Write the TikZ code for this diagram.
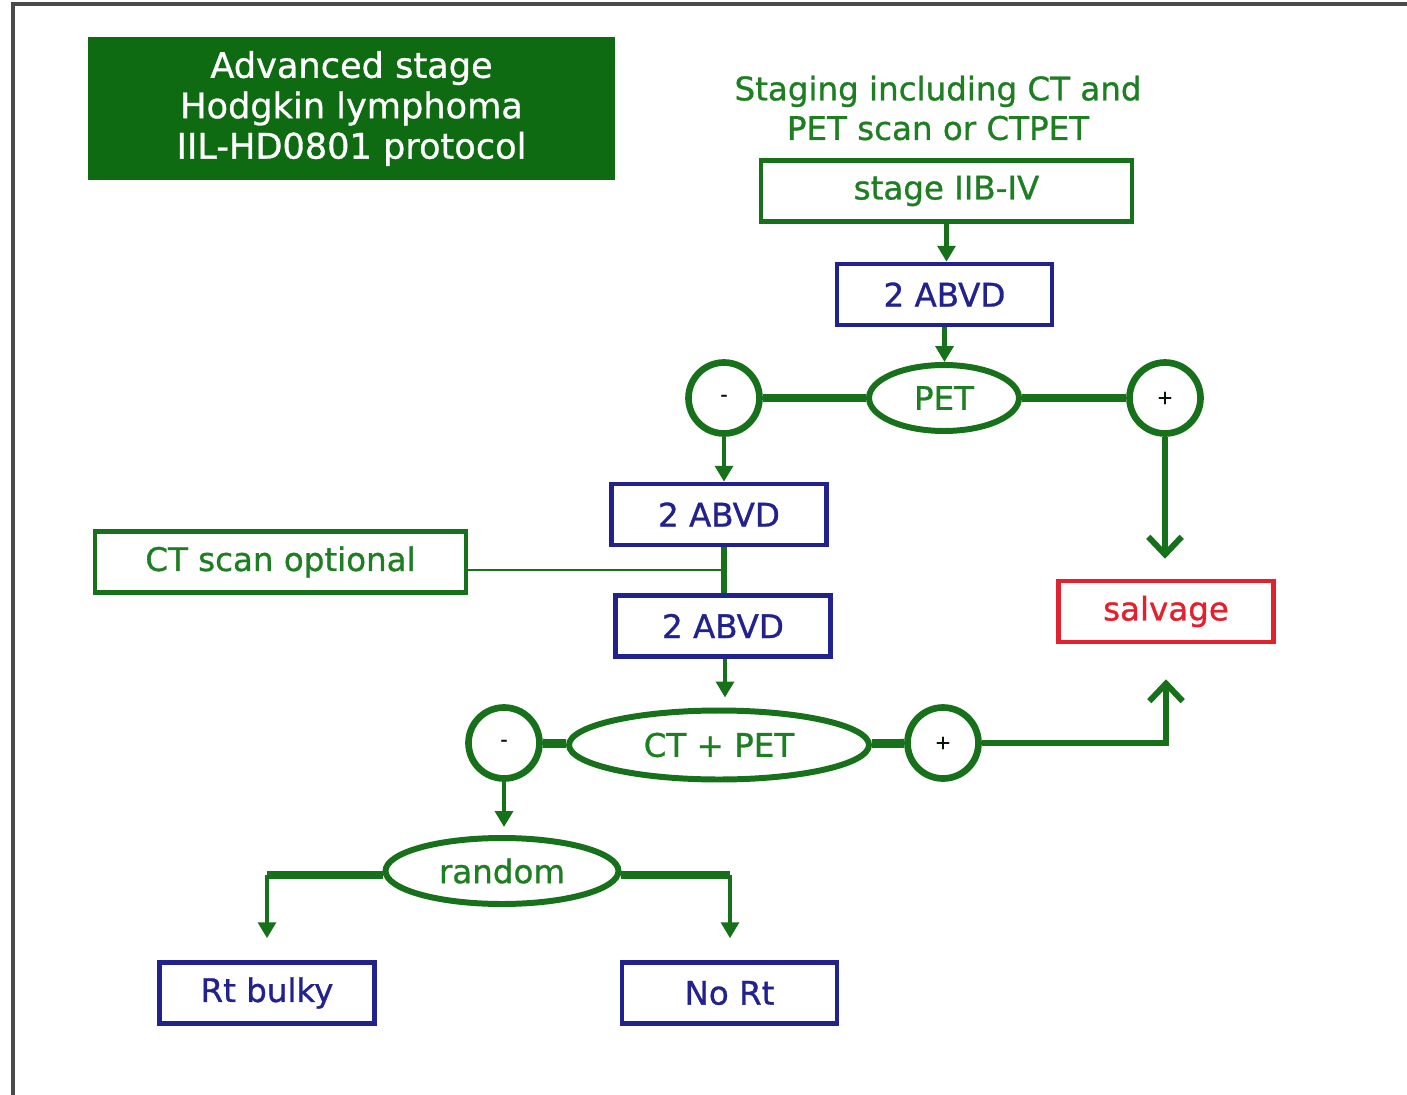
\documentclass[tikz,border=0pt]{standalone}
\usepackage{fontspec}
\setmainfont{DejaVu Sans}
\newfontfamily\cs{DejaVu Sans}[FakeBold=0.9]
\usetikzlibrary{arrows.meta,shapes.geometric,calc}
\definecolor{dgreen}{HTML}{17701A}
\definecolor{tgreen}{HTML}{1E7E22}
\definecolor{titlegreen}{HTML}{0F6B12}
\definecolor{dblue}{HTML}{22228F}
\definecolor{dred}{HTML}{E3202E}
\definecolor{framegray}{HTML}{4A4A4A}
\begin{document}
\begin{tikzpicture}[x=0.02cm,y=-0.02cm,
  font=\cs\fontsize{18.5}{22.5}\selectfont,
  gbox/.style={draw=dgreen, line width=2.6pt, text=tgreen, minimum height=1.22cm, inner sep=0pt},
  bbox/.style={draw=dblue, line width=2.6pt, text=dblue, minimum width=4.3cm, minimum height=1.22cm, inner sep=0pt},
  rbox/.style={draw=dred, line width=2.6pt, text=dred, minimum width=4.3cm, minimum height=1.22cm, inner sep=0pt},
  oval/.style={ellipse, draw=dgreen, line width=3.4pt, text=tgreen, inner sep=0pt},
  sign/.style={circle, draw=dgreen, line width=3.8pt, minimum size=1.42cm, inner sep=0pt, text=black!80!dgreen, font=\cs\fontsize{11}{11}\selectfont},
  arr/.style={draw=dgreen, line width=2.6pt, -{Triangle[length=9pt,width=10pt]}},
  link/.style={draw=dgreen, line width=5pt},
  plainlink/.style={draw=dgreen, line width=4pt},
  thinlink/.style={draw=dgreen, line width=1.3pt},
  bigarr/.style={draw=dgreen, line width=3.4pt, -{Straight Barb[length=10pt,width=19pt,line width=3.4pt]}}
]
\useasboundingbox (0,0) rectangle (1407,1095);
\fill[white] (0,0) rectangle (1407,1095);
% frame
\draw[framegray, line width=1.8pt] (1407,4) -- (13,4) -- (13,1095);

% title
\node[fill=titlegreen, text=white, minimum width=10.54cm, minimum height=2.86cm, align=center, inner sep=0pt,
      font=\cs\fontsize{20}{23}\selectfont] (title) at (351.5,108.5)
  {Advanced stage\\Hodgkin lymphoma\\IIL-HD0801 protocol};

% staging text
\node[text=tgreen, align=center] (staging) at (938,108) {Staging including CT and\\PET scan or CTPET};

\node[gbox, minimum width=7.42cm] (stage) at (946.5,191) {stage IIB-IV};
\node[bbox] (abvd1) at (944.5,294.5) {2 ABVD};
\node[oval, minimum width=3.0cm, minimum height=1.32cm] (pet) at (944,398) {PET};
\node[sign] (minus1) at (724,398) {-};
\node[sign] (plus1) at (1165,398) {+};

\node[bbox] (abvd2) at (719,514.5) {2 ABVD};
\node[gbox, minimum width=7.42cm] (ctopt) at (280.5,562) {CT scan optional};
\node[bbox] (abvd3) at (723,626) {2 ABVD};

\node[oval, minimum width=6.0cm, minimum height=1.38cm] (ctpet) at (719,745) {CT + PET};
\node[sign] (minus2) at (504,743) {-};
\node[sign] (plus2) at (943,743) {+};

\node[rbox] (salvage) at (1166,611.5) {salvage};

\node[oval, minimum width=4.66cm, minimum height=1.32cm] (random) at (502,871) {random};
\node[bbox] (rtbulky) at (267,993) {Rt bulky};
\node[bbox] (nort) at (729.5,993) {No Rt};

% connectors
\draw[arr] (stage.south) -- (stage.south |- abvd1.north);
\draw[arr] (abvd1.south) -- (abvd1.south |- pet.north);
\draw[link] (minus1) -- (pet);
\draw[link] (pet) -- (plus1);
\draw[arr] (minus1.south) -- (minus1.south |- abvd2.north);
\draw[link, line width=3.6pt] (abvd2.south -| minus1.south) coordinate (j1) -- (abvd3.north -| minus1.south);
\coordinate (jct) at ($(ctopt.east)+(0,8)$);
\draw[thinlink] (jct) -- (jct -| j1);
\draw[arr] (abvd3.south -| 725,0) -- ($(ctpet.north -| 725,0)+(0,-10)$);
\draw[link] (minus2) -- (ctpet);
\draw[link] (ctpet) -- (plus2);
\coordinate (corner) at (plus2 -| salvage.south);
\draw[bigarr, shorten >=35*0.02cm] (plus2.east) -- (corner) -- (salvage.south);
\draw[bigarr, shorten >=20*0.02cm] (plus1.south) -- (plus1.south |- salvage.north);
\draw[arr] (minus2.south) -- ($(minus2.south |- random.north)+(0,-8)$);
\coordinate (rl) at (267,875);
\coordinate (rr) at (730,875);
\draw[plainlink] (random.west |- rl) -- (rl);
\draw[arr] (rl) -- ($(rtbulky.north)+(0,-22)$);
\draw[plainlink] (random.east |- rr) -- (rr);
\draw[arr] (rr) -- ($(rr |- nort.north)+(0,-22)$);
\end{tikzpicture}
\end{document}
